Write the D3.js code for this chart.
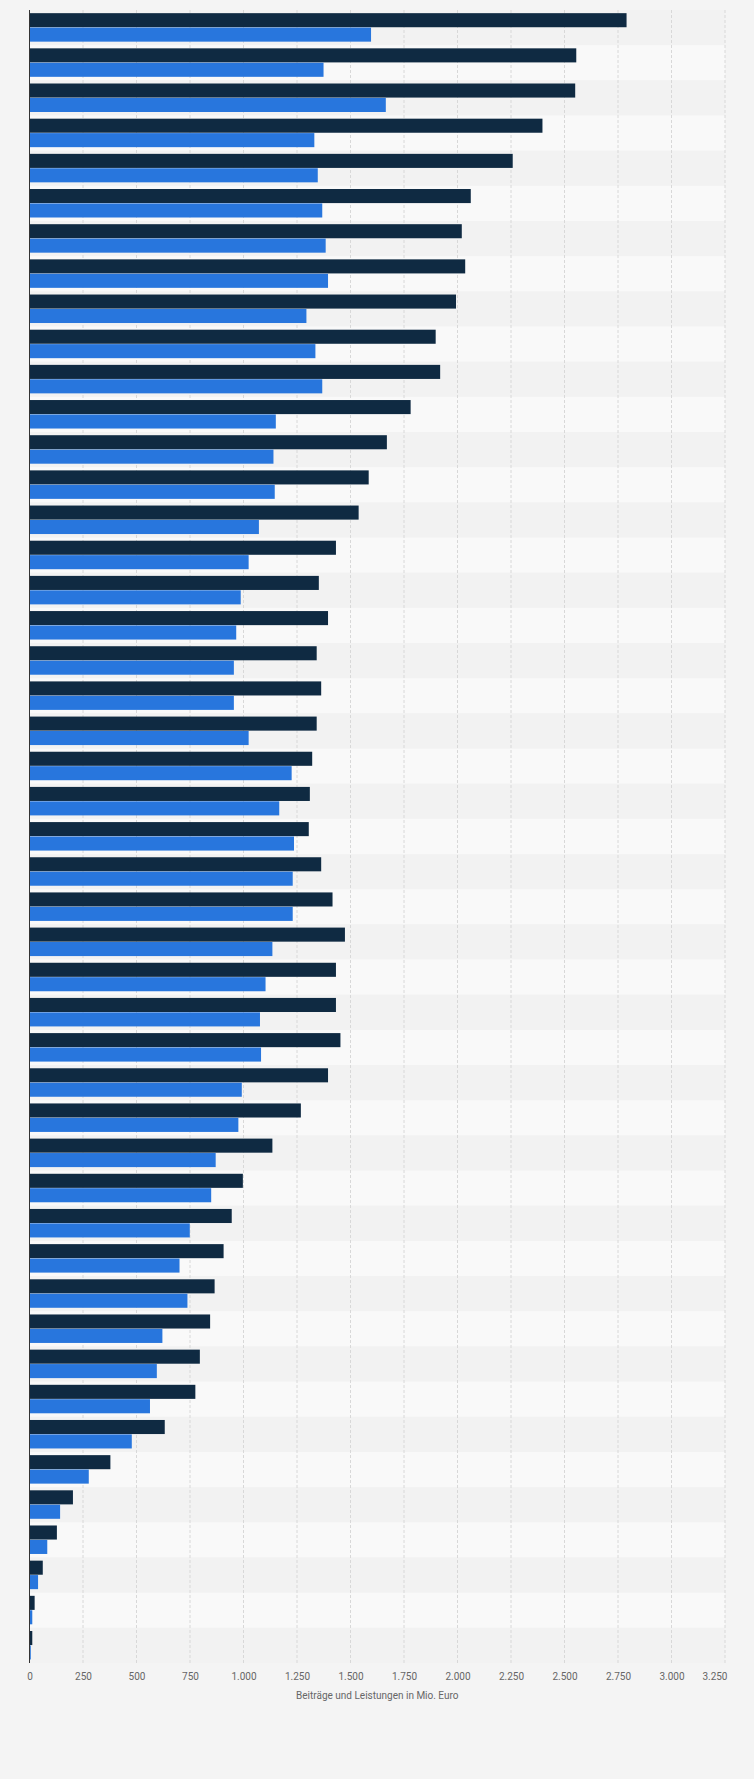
<!DOCTYPE html><html><head><meta charset="utf-8"><script src="https://cdn.jsdelivr.net/npm/d3@7"></script>
<style>body{margin:0;background:#f4f4f4}svg{display:block}</style></head><body><svg id="c" width="754" height="1779"></svg><script>
const categories = d3.range(1, 48).map(String);
const seriesA = [2790,2555,2550,2397,2258,2062,2020,2036,1993,1898,1919,1781,1670,1585,1538,1432,1352,1395,1342,1363,1342,1321,1310,1305,1363,1416,1474,1432,1432,1453,1395,1268,1135,997,945,907,865,844,796,775,632,378,203,128,62,24,13];
const seriesB = [1596,1374,1665,1331,1347,1368,1384,1395,1294,1336,1368,1151,1140,1146,1072,1024,987,966,955,955,1024,1225,1167,1236,1230,1230,1135,1103,1077,1082,992,976,870,849,749,701,738,621,595,563,478,277,143,83,40,13,6];
const ticks = [0,250,500,750,1000,1250,1500,1750,2000,2250,2500,2750,3000,3250];
const svg = d3.select("#c");
const L=29.5,R=725,T=10,B=1663;
const x=d3.scaleLinear().domain([0,3250]).range([L,R]);
const y=d3.scaleBand().domain(categories).range([T,B]);
const fmt=v=>d3.format(",")(v).replace(/,/g,".");
svg.append("g").selectAll("rect").data(categories).join("rect")
 .attr("x",L).attr("width",R-L).attr("y",d=>y(d)).attr("height",y.bandwidth())
 .attr("fill",(d,i)=>i%2?"#f9f9f9":"#f2f2f2");
svg.append("g").selectAll("line").data(ticks.slice(1)).join("line")
 .attr("x1",d=>x(d)).attr("x2",d=>x(d)).attr("y1",T).attr("y2",B)
 .attr("stroke","#d8d8d8").attr("stroke-dasharray","3,2");
const bw=y.bandwidth();
svg.append("g").selectAll("rect").data(categories).join("rect")
 .attr("x",L).attr("y",d=>y(d)+bw*0.09).attr("height",bw*0.4)
 .attr("width",(d,i)=>x(seriesA[i])-L).attr("fill","#0f2a42");
svg.append("g").selectAll("rect").data(categories).join("rect")
 .attr("x",L).attr("y",d=>y(d)+bw*0.5).attr("height",bw*0.4)
 .attr("width",(d,i)=>x(seriesB[i])-L).attr("fill","#2876dd");
svg.append("line").attr("x1",L).attr("x2",L).attr("y1",T).attr("y2",B).attr("stroke","#333");
svg.append("g").attr("transform",`translate(0,${B})`)
 .call(d3.axisBottom(x).tickValues(ticks).tickFormat(fmt).tickSize(0).tickPadding(10))
 .call(g=>g.select(".domain").remove())
 .call(g=>g.selectAll("text").attr("fill","#666").attr("font-size",10).attr("font-family","Roboto, sans-serif"))
 .call(g=>g.selectAll(".tick").filter(d=>d===3250).select("text").attr("text-anchor","end").attr("dx",2));
svg.append("text").attr("x",(L+R)/2).attr("y",1699).attr("text-anchor","middle")
 .attr("font-size",10).attr("fill","#666").attr("font-family","Roboto, sans-serif").text("Beiträge und Leistungen in Mio. Euro");
</script></body></html>
